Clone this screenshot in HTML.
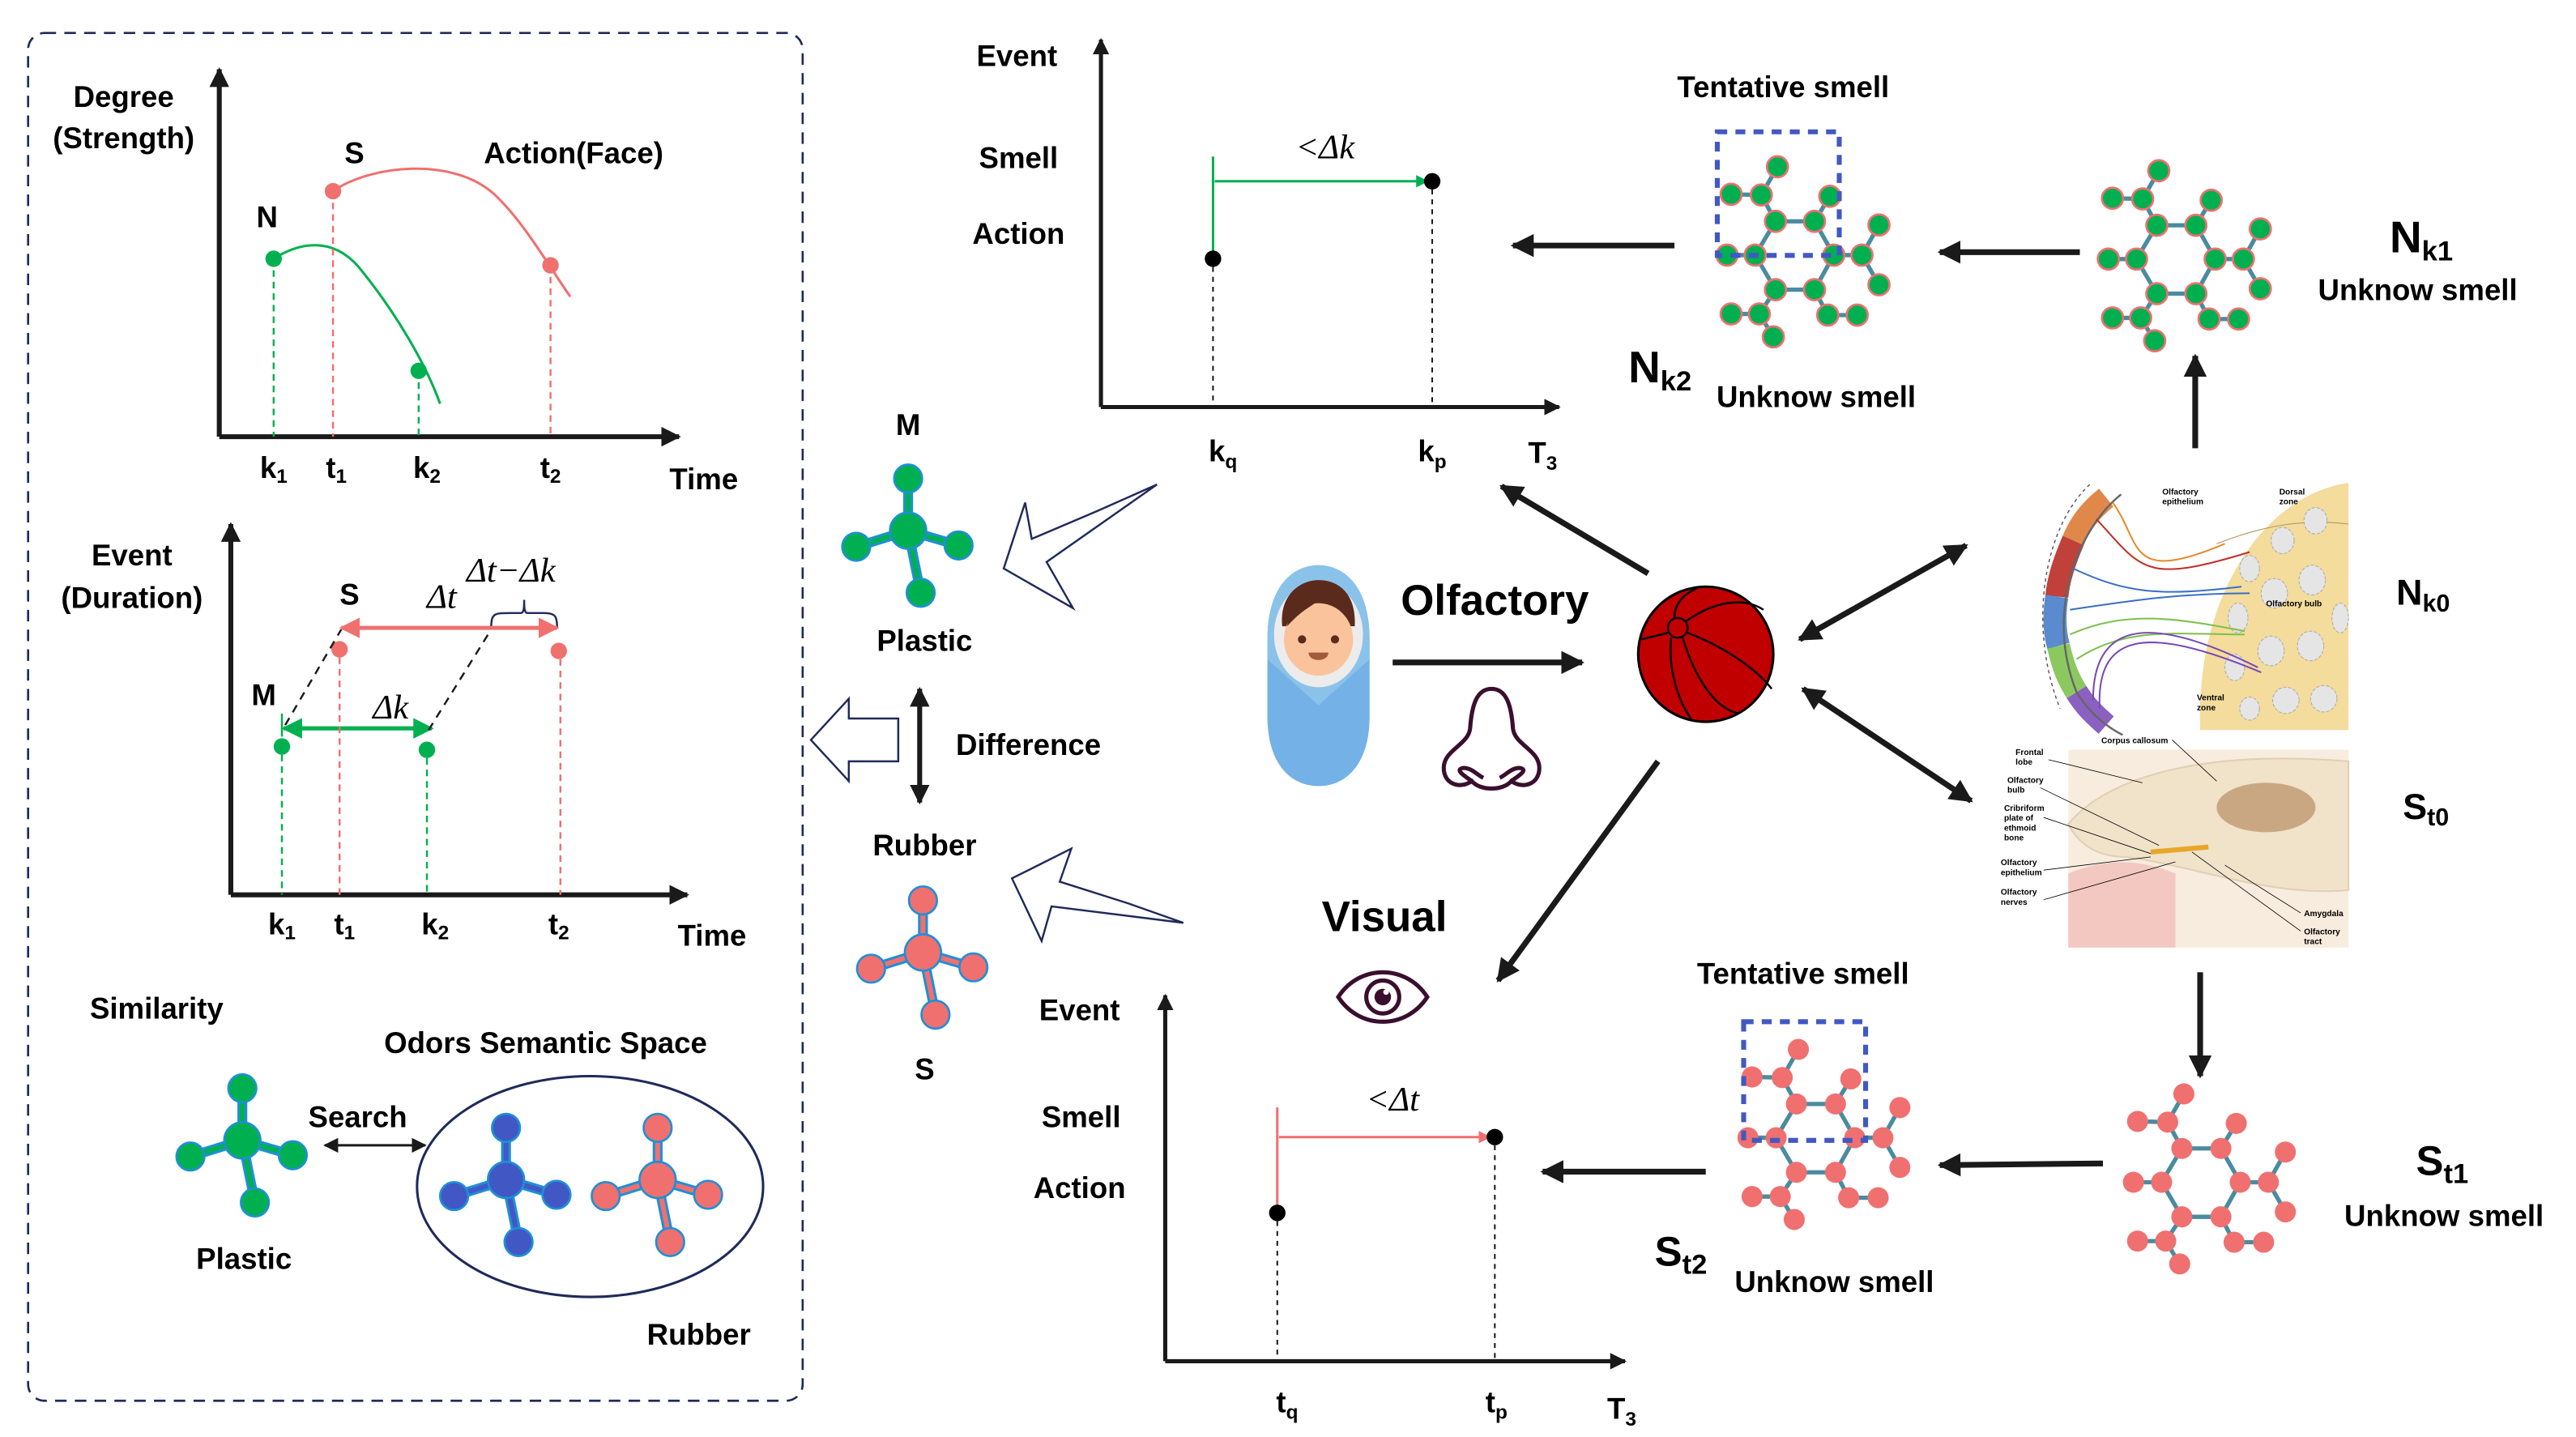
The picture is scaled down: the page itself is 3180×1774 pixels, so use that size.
<!DOCTYPE html>
<html><head><meta charset="utf-8"><style>
html,body{margin:0;padding:0;background:#fff;width:3180px;height:1774px;overflow:hidden}
svg{display:block}
text{font-family:"Liberation Sans",sans-serif;font-weight:bold;fill:#000}
.l{font-size:18px}
.m{font-size:17px}
.it{font-family:"Liberation Serif",serif;font-style:italic;font-weight:normal;font-size:21px}
</style></head><body>
<svg width="3180" height="1774" viewBox="0 0 1563 872" xmlns="http://www.w3.org/2000/svg">
<defs>
<marker id="ah" viewBox="0 0 10 10" refX="9" refY="5" markerWidth="4" markerHeight="4" orient="auto-start-reverse"><path d="M0,0L10,5L0,10z" fill="#1a1a1a"/></marker>
<marker id="ahs" viewBox="0 0 10 10" refX="9" refY="5" markerWidth="6" markerHeight="6" orient="auto-start-reverse"><path d="M0,0L10,5L0,10z" fill="#1a1a1a"/></marker>
<marker id="ahr" viewBox="0 0 10 10" refX="9" refY="5" markerWidth="5" markerHeight="5" orient="auto-start-reverse"><path d="M0,0L10,5L0,10z" fill="#f07070"/></marker>
<marker id="ahg" viewBox="0 0 10 10" refX="9" refY="5" markerWidth="5" markerHeight="5" orient="auto-start-reverse"><path d="M0,0L10,5L0,10z" fill="#00b050"/></marker>
<g id="bonds" stroke="#4a8ba0" stroke-width="2.6" fill="none">
<path d="M-11.7,-20.5L12,-20.5L23.7,0L12,21L-11.7,21L-24,0Z"/>
<path d="M-11.7,-20.5L-20.3,-36.5L-38.6,-36.9M-20.3,-36.5L-10.5,-53.6M12,-20.5L21.3,-35.7M23.7,0L40.8,0L51.1,-18.3M40.8,0L51.1,18M-24,0L-41.1,0M-11.7,21L-21.5,35.7L-38.6,35.7M-21.5,35.7L-13,49.6M12,21L20,36.4L37.9,36.4"/>
</g>
<g id="nodes">
<circle cx="-11.7" cy="-20.5" r="6.4"/><circle cx="12" cy="-20.5" r="6.4"/><circle cx="23.7" cy="0" r="6.4"/><circle cx="12" cy="21" r="6.4"/><circle cx="-11.7" cy="21" r="6.4"/><circle cx="-24" cy="0" r="6.4"/>
<circle cx="-20.3" cy="-36.5" r="6.4"/><circle cx="-38.6" cy="-36.9" r="6.4"/><circle cx="-10.5" cy="-53.6" r="6.4"/><circle cx="21.3" cy="-35.7" r="6.4"/>
<circle cx="40.8" cy="0" r="6.4"/><circle cx="51.1" cy="-18.3" r="6.4"/><circle cx="51.1" cy="18" r="6.4"/><circle cx="-41.1" cy="0" r="6.4"/>
<circle cx="-21.5" cy="35.7" r="6.4"/><circle cx="-38.6" cy="35.7" r="6.4"/><circle cx="-13" cy="49.6" r="6.4"/><circle cx="20" cy="36.4" r="6.4"/><circle cx="37.9" cy="36.4" r="6.4"/>
</g>
<g id="tb" fill="none">
<path d="M0,0L0,-31.6M0,0L-31.5,9.8M0,0L30.6,9M0,0L7.6,37.7" stroke="#1f8fd8" stroke-width="6"/>
</g>
<g id="tn">
<circle cx="0" cy="0" r="11"/><circle cx="0" cy="-31.6" r="8.5"/><circle cx="-31.5" cy="9.8" r="8.5"/><circle cx="30.6" cy="9" r="8.5"/><circle cx="7.6" cy="37.7" r="8.5"/>
</g>
</defs>

<!-- Left dashed panel -->
<rect x="17" y="20" width="470" height="830" rx="10" fill="none" stroke="#1f2a5a" stroke-width="1.3" stroke-dasharray="7,5"/>

<!-- Chart 1 -->
<line x1="133" y1="265" x2="133" y2="42" stroke="#1a1a1a" stroke-width="3" marker-end="url(#ah)"/>
<line x1="133" y1="265" x2="412" y2="265" stroke="#1a1a1a" stroke-width="3" marker-end="url(#ah)"/>
<text x="75" y="65" class="l" text-anchor="middle">Degree</text>
<text x="75" y="90" class="l" text-anchor="middle">(Strength)</text>
<text x="215" y="99" class="l" text-anchor="middle">S</text>
<text x="348" y="99" class="l" text-anchor="middle">Action(Face)</text>
<text x="162" y="138" class="l" text-anchor="middle">N</text>
<path d="M202,116 C225,100 275,95 300,118 C318,135 332,160 346,180" fill="none" stroke="#f07070" stroke-width="1.5"/>
<path d="M166,157 C185,145 205,145 220,165 C240,190 258,220 267,245" fill="none" stroke="#00b050" stroke-width="1.5"/>
<g stroke-dasharray="4,3" stroke-width="1.2">
<line x1="166" y1="157" x2="166" y2="265" stroke="#00b050"/><line x1="254" y1="225" x2="254" y2="265" stroke="#00b050"/>
<line x1="202" y1="116" x2="202" y2="265" stroke="#f07070"/><line x1="334" y1="161" x2="334" y2="265" stroke="#f07070"/>
</g>
<circle cx="166" cy="157" r="5" fill="#00b050"/><circle cx="254" cy="225" r="5" fill="#00b050"/>
<circle cx="202" cy="116" r="5" fill="#f07070"/><circle cx="334" cy="161" r="5" fill="#f07070"/>
<text x="166" y="290" class="l" text-anchor="middle">k<tspan font-size="12" dy="3">1</tspan></text>
<text x="204" y="290" class="l" text-anchor="middle">t<tspan font-size="12" dy="3">1</tspan></text>
<text x="259" y="290" class="l" text-anchor="middle">k<tspan font-size="12" dy="3">2</tspan></text>
<text x="334" y="290" class="l" text-anchor="middle">t<tspan font-size="12" dy="3">2</tspan></text>
<text x="427" y="297" class="l" text-anchor="middle">Time</text>

<!-- Chart 2 -->
<line x1="140" y1="543" x2="140" y2="318" stroke="#1a1a1a" stroke-width="3" marker-end="url(#ah)"/>
<line x1="140" y1="543" x2="417" y2="543" stroke="#1a1a1a" stroke-width="3" marker-end="url(#ah)"/>
<text x="80" y="343" class="l" text-anchor="middle">Event</text>
<text x="80" y="369" class="l" text-anchor="middle">(Duration)</text>
<text x="212" y="367" class="l" text-anchor="middle">S</text>
<text x="268" y="369" class="it" text-anchor="middle">Δt</text>
<text x="310" y="353" class="it" text-anchor="middle">Δt−Δk</text>
<path d="M298,381 C298,372 300,372 310,372 L316,372 C318,372 318,368 318,364 C318,368 318,372 320,372 L330,372 C337,372 338,374 338,381" fill="none" stroke="#1f2a5a" stroke-width="1.2"/>
<line x1="207" y1="381" x2="338" y2="381" stroke="#f07070" stroke-width="2.5" marker-start="url(#ahr)" marker-end="url(#ahr)"/>
<circle cx="206" cy="394" r="5" fill="#f07070"/><circle cx="339" cy="395" r="5" fill="#f07070"/>
<text x="160" y="428" class="l" text-anchor="middle">M</text>
<text x="237" y="436" class="it" text-anchor="middle">Δk</text>
<line x1="171" y1="433" x2="171" y2="447" stroke="#00b050" stroke-width="1.2"/>
<line x1="172" y1="442" x2="262" y2="442" stroke="#00b050" stroke-width="2.5" marker-start="url(#ahg)" marker-end="url(#ahg)"/>
<circle cx="171" cy="453" r="5" fill="#00b050"/><circle cx="259" cy="455" r="5" fill="#00b050"/>
<g stroke-dasharray="5,4" stroke="#1a1a1a" stroke-width="1.2"><line x1="173" y1="440" x2="207" y2="382"/><line x1="260" y1="443" x2="298" y2="382"/></g>
<g stroke-dasharray="4,3" stroke-width="1.2">
<line x1="171" y1="458" x2="171" y2="543" stroke="#00b050"/><line x1="259" y1="460" x2="259" y2="543" stroke="#00b050"/>
<line x1="206" y1="399" x2="206" y2="543" stroke="#f07070"/><line x1="340" y1="400" x2="340" y2="543" stroke="#f07070"/>
</g>
<text x="171" y="567" class="l" text-anchor="middle">k<tspan font-size="12" dy="3">1</tspan></text>
<text x="209" y="567" class="l" text-anchor="middle">t<tspan font-size="12" dy="3">1</tspan></text>
<text x="264" y="567" class="l" text-anchor="middle">k<tspan font-size="12" dy="3">2</tspan></text>
<text x="339" y="567" class="l" text-anchor="middle">t<tspan font-size="12" dy="3">2</tspan></text>
<text x="432" y="574" class="l" text-anchor="middle">Time</text>

<!-- Similarity -->
<text x="95" y="618" class="l" text-anchor="middle">Similarity</text>
<text x="331" y="639" class="l" text-anchor="middle">Odors Semantic Space</text>
<g transform="translate(147,692)"><use href="#tb"/><path d="M0,0L0,-31.6M0,0L-31.5,9.8M0,0L30.6,9M0,0L7.6,37.7" stroke="#00b050" stroke-width="3"/><use href="#tn" fill="#00b050" stroke="#1f8fd8" stroke-width="1.3"/></g>
<text x="217" y="684" class="l" text-anchor="middle">Search</text>
<line x1="197" y1="695" x2="258" y2="695" stroke="#1a1a1a" stroke-width="1.5" marker-start="url(#ahs)" marker-end="url(#ahs)"/>
<ellipse cx="358" cy="720" rx="105" ry="67" fill="none" stroke="#1f2a5a" stroke-width="1.5"/>
<g transform="translate(307,716)"><use href="#tb"/><path d="M0,0L0,-31.6M0,0L-31.5,9.8M0,0L30.6,9M0,0L7.6,37.7" stroke="#4158c4" stroke-width="3"/><use href="#tn" fill="#4158c4" stroke="#1f8fd8" stroke-width="1.3"/></g>
<g transform="translate(399,716)"><use href="#tb"/><path d="M0,0L0,-31.6M0,0L-31.5,9.8M0,0L30.6,9M0,0L7.6,37.7" stroke="#f07070" stroke-width="3"/><use href="#tn" fill="#f07070" stroke="#1f8fd8" stroke-width="1.3"/></g>
<text x="148" y="770" class="l" text-anchor="middle">Plastic</text>
<text x="424" y="816" class="l" text-anchor="middle">Rubber</text>

<!-- Middle column -->
<text x="551" y="264" class="l" text-anchor="middle">M</text>
<g transform="translate(551,322)"><use href="#tb"/><path d="M0,0L0,-31.6M0,0L-31.5,9.8M0,0L30.6,9M0,0L7.6,37.7" stroke="#00b050" stroke-width="3"/><use href="#tn" fill="#00b050" stroke="#1f8fd8" stroke-width="1.3"/></g>
<text x="561" y="395" class="l" text-anchor="middle">Plastic</text>
<line x1="558" y1="452" x2="558" y2="418" stroke="#1a1a1a" stroke-width="3" marker-end="url(#ah)"/>
<line x1="558" y1="452" x2="558" y2="487" stroke="#1a1a1a" stroke-width="3" marker-end="url(#ah)"/>
<text x="624" y="458" class="l" text-anchor="middle">Difference</text>
<path d="M492,449 L515,424 L515,436 L545,436 L545,462 L515,462 L515,474 Z" fill="#fff" stroke="#1f2a5a" stroke-width="1.2"/>
<text x="561" y="519" class="l" text-anchor="middle">Rubber</text>
<g transform="translate(560,578)"><use href="#tb"/><path d="M0,0L0,-31.6M0,0L-31.5,9.8M0,0L30.6,9M0,0L7.6,37.7" stroke="#f07070" stroke-width="3"/><use href="#tn" fill="#f07070" stroke="#1f8fd8" stroke-width="1.3"/></g>
<text x="561" y="655" class="l" text-anchor="middle">S</text>
<path d="M702,294 L666,310 L626,327 L622,305 L609,345 L651,369 L635,341 Z" fill="#fff" stroke="#1f2a5a" stroke-width="1.2"/>
<path d="M718,560 L684,548 L643,535 L650,515 L614,533 L632,571 L638,550 Z" fill="#fff" stroke="#1f2a5a" stroke-width="1.2"/>

<!-- Top chart -->
<line x1="668" y1="247" x2="668" y2="24" stroke="#1a1a1a" stroke-width="2.5" marker-end="url(#ah)"/>
<line x1="668" y1="247" x2="946" y2="247" stroke="#1a1a1a" stroke-width="2.5" marker-end="url(#ah)"/>
<text x="617" y="40" class="l" text-anchor="middle">Event</text>
<text x="618" y="102" class="l" text-anchor="middle">Smell</text>
<text x="618" y="148" class="l" text-anchor="middle">Action</text>
<line x1="736" y1="95" x2="736" y2="157" stroke="#00b050" stroke-width="1.5"/>
<line x1="737" y1="110" x2="866" y2="110" stroke="#00b050" stroke-width="1.5" marker-end="url(#ahg)"/>
<text x="804" y="96" class="it" text-anchor="middle">&lt;Δk</text>
<circle cx="736" cy="157" r="5" fill="#000"/><circle cx="869" cy="110" r="5" fill="#000"/>
<g stroke="#1a1a1a" stroke-dasharray="3,3" stroke-width="1"><line x1="736" y1="162" x2="736" y2="247"/><line x1="869" y1="115" x2="869" y2="247"/></g>
<text x="742" y="280" class="l" text-anchor="middle">k<tspan font-size="12" dy="4">q</tspan></text>
<text x="869" y="280" class="l" text-anchor="middle">k<tspan font-size="12" dy="4">p</tspan></text>
<text x="936" y="281" class="l" text-anchor="middle">T<tspan font-size="12" dy="4">3</tspan></text>

<!-- Bottom chart -->
<line x1="707" y1="826" x2="707" y2="604" stroke="#1a1a1a" stroke-width="2.5" marker-end="url(#ah)"/>
<line x1="707" y1="826" x2="986" y2="826" stroke="#1a1a1a" stroke-width="2.5" marker-end="url(#ah)"/>
<text x="655" y="619" class="l" text-anchor="middle">Event</text>
<text x="656" y="684" class="l" text-anchor="middle">Smell</text>
<text x="655" y="727" class="l" text-anchor="middle">Action</text>
<line x1="775" y1="672" x2="775" y2="735" stroke="#f07070" stroke-width="1.5"/>
<line x1="776" y1="690" x2="904" y2="690" stroke="#f07070" stroke-width="1.5" marker-end="url(#ahr)"/>
<text x="845" y="674" class="it" text-anchor="middle">&lt;Δt</text>
<circle cx="775" cy="736" r="5" fill="#000"/><circle cx="907" cy="690" r="5" fill="#000"/>
<g stroke="#1a1a1a" stroke-dasharray="3,3" stroke-width="1"><line x1="775" y1="741" x2="775" y2="826"/><line x1="907" y1="695" x2="907" y2="826"/></g>
<text x="781" y="857" class="l" text-anchor="middle">t<tspan font-size="12" dy="4">q</tspan></text>
<text x="908" y="857" class="l" text-anchor="middle">t<tspan font-size="12" dy="4">p</tspan></text>
<text x="984" y="861" class="l" text-anchor="middle">T<tspan font-size="12" dy="4">3</tspan></text>

<!-- Baby -->
<g>
<path d="M769,388 C769,355 785,343 800,343 C815,343 831,355 831,388 L831,435 C831,462 818,477 800,477 C782,477 769,462 769,435 Z" fill="#74b1e6"/>
<path d="M769,388 C769,355 785,343 800,343 C815,343 831,355 831,388 L831,400 L800,428 L769,400 Z" fill="#8bc2ea"/>
<ellipse cx="800" cy="385" rx="27" ry="32" fill="#ececec"/>
<path d="M778,380 C776,360 790,352 800,352 C812,352 823,360 822,380 Z" fill="#5a2a1c"/>
<ellipse cx="800" cy="388" rx="21" ry="22" fill="#fbc39c"/>
<path d="M781,380 C783,364 792,358 800,358 C810,358 818,364 820,376 C815,368 806,366 799,365 C796,368 790,370 781,380 Z" fill="#5a2a1c"/>
<circle cx="790" cy="388" r="2.5" fill="#5a2a1c"/><circle cx="810" cy="388" r="2.5" fill="#5a2a1c"/>
<path d="M794,396 L806,396 C806,402 794,402 794,396 Z" fill="#a05a3c"/>
</g>
<text x="907" y="373" font-size="26" text-anchor="middle">Olfactory</text>
<line x1="845" y1="402" x2="960" y2="402" stroke="#1a1a1a" stroke-width="3.5" marker-end="url(#ah)"/>
<!-- Nose -->
<path d="M905,418 C896,418 893,428 892,442 C891,452 876,455 876,466 C876,476 886,479 893,474 C898,480 912,480 917,474 C924,479 934,476 934,466 C934,455 919,452 918,442 C917,428 914,418 905,418 Z M893,474 C889,471 882,467 888,466 C893,466 896,470 900,472 M917,474 C921,471 928,467 922,466 C917,466 914,470 910,472" fill="none" stroke="#3a0f2e" stroke-width="2.5"/>
<!-- Ball -->
<circle cx="1035" cy="397" r="41" fill="#c00000" stroke="#000" stroke-width="1.5"/>
<g fill="none" stroke="#000" stroke-width="1.2">
<circle cx="1018" cy="381" r="6"/>
<path d="M1024,384 C1045,392 1065,405 1075,418"/>
<path d="M1021,387 C1028,410 1040,430 1055,433"/>
<path d="M1014,387 C1012,405 1018,425 1026,436"/>
<path d="M1023,377 C1040,365 1058,362 1070,370"/>
<path d="M1016,375 C1016,366 1022,360 1030,357"/>
<path d="M1012,384 L996,388"/>
</g>
<text x="840" y="565" font-size="26" text-anchor="middle">Visual</text>
<!-- Eye -->
<g fill="none" stroke="#3a0f2e" stroke-width="2.5">
<path d="M812,605 C825,585 853,585 866,605 C853,625 825,625 812,605 Z"/>
<circle cx="839" cy="605" r="10"/>
</g>
<circle cx="839" cy="605" r="5" fill="#3a0f2e"/><circle cx="841" cy="602" r="1.7" fill="#fff"/>

<!-- Arrows -->
<line x1="1000" y1="348" x2="911" y2="295" stroke="#1a1a1a" stroke-width="3.5" marker-end="url(#ah)"/>
<line x1="1006" y1="462" x2="909" y2="595" stroke="#1a1a1a" stroke-width="3.5" marker-end="url(#ah)"/>
<line x1="1092" y1="388" x2="1193" y2="331" stroke="#1a1a1a" stroke-width="3.5" marker-start="url(#ah)" marker-end="url(#ah)"/>
<line x1="1094" y1="418" x2="1196" y2="486" stroke="#1a1a1a" stroke-width="3.5" marker-start="url(#ah)" marker-end="url(#ah)"/>
<line x1="1332" y1="272" x2="1332" y2="216" stroke="#1a1a1a" stroke-width="3.5" marker-end="url(#ah)"/>
<line x1="1016" y1="149" x2="918" y2="149" stroke="#1a1a1a" stroke-width="3.5" marker-end="url(#ah)"/>
<line x1="1262" y1="153" x2="1177" y2="153" stroke="#1a1a1a" stroke-width="3.5" marker-end="url(#ah)"/>
<line x1="1335" y1="590" x2="1335" y2="653" stroke="#1a1a1a" stroke-width="3.5" marker-end="url(#ah)"/>
<line x1="1276" y1="706" x2="1177" y2="707" stroke="#1a1a1a" stroke-width="3.5" marker-end="url(#ah)"/>
<line x1="1035" y1="711" x2="936" y2="711" stroke="#1a1a1a" stroke-width="3.5" marker-end="url(#ah)"/>

<!-- Molecules -->
<g transform="translate(1320.4,157.2)"><use href="#bonds"/><use href="#nodes" fill="#00b050" stroke="#f07070" stroke-width="1.3"/></g>
<g transform="translate(1089,154.8)"><use href="#bonds"/><use href="#nodes" fill="#00b050" stroke="#f07070" stroke-width="1.3"/></g>
<rect x="1042" y="80" width="74" height="75" fill="none" stroke="#4158c4" stroke-width="3" stroke-dasharray="6,5"/>
<g transform="translate(1335.6,717.4)"><use href="#bonds"/><use href="#nodes" fill="#f07070"/></g>
<g transform="translate(1101.7,690.4)"><use href="#bonds"/><use href="#nodes" fill="#f07070"/></g>
<rect x="1058" y="620" width="74" height="72" fill="none" stroke="#4158c4" stroke-width="3" stroke-dasharray="6,5"/>

<!-- Labels right -->
<text x="1082" y="59" class="l" text-anchor="middle">Tentative smell</text>
<text x="1450" y="153" font-size="27">N<tspan font-size="17" dy="5">k1</tspan></text>
<text x="1467" y="182" class="l" text-anchor="middle">Unknow smell</text>
<text x="988" y="232" font-size="27">N<tspan font-size="17" dy="5">k2</tspan></text>
<text x="1102" y="247" class="l" text-anchor="middle">Unknow smell</text>
<text x="1454" y="367" font-size="22">N<tspan font-size="15" dy="4">k0</tspan></text>
<text x="1458" y="497" font-size="22">S<tspan font-size="15" dy="4">t0</tspan></text>
<text x="1094" y="597" class="l" text-anchor="middle">Tentative smell</text>
<text x="1466" y="713" font-size="25">S<tspan font-size="17" dy="5">t1</tspan></text>
<text x="1483" y="744" class="l" text-anchor="middle">Unknow smell</text>
<text x="1004" y="768" font-size="25">S<tspan font-size="17" dy="5">t2</tspan></text>
<text x="1113" y="784" class="l" text-anchor="middle">Unknow smell</text>

<!-- Brain illustration top -->
<g>
<path d="M1335,443 C1332,360 1375,300 1425,293 L1425,443 Z" fill="#f3dc9c"/>
<path d="M1345,330 C1375,318 1400,315 1425,318" fill="none" stroke="#b8a070" stroke-width="0.6"/>
<g fill="#e5e5e5" stroke="#aaa" stroke-width="0.5" stroke-dasharray="2,1">
<ellipse cx="1365" cy="345" rx="6" ry="8"/><ellipse cx="1385" cy="328" rx="7" ry="8"/><ellipse cx="1405" cy="316" rx="7" ry="8"/>
<ellipse cx="1358" cy="375" rx="6" ry="9"/><ellipse cx="1380" cy="360" rx="8" ry="9"/><ellipse cx="1403" cy="352" rx="8" ry="9"/>
<ellipse cx="1356" cy="405" rx="6" ry="8"/><ellipse cx="1378" cy="395" rx="8" ry="9"/><ellipse cx="1402" cy="392" rx="8" ry="9"/>
<ellipse cx="1365" cy="430" rx="6" ry="7"/><ellipse cx="1387" cy="425" rx="8" ry="8"/><ellipse cx="1410" cy="424" rx="8" ry="8"/>
<ellipse cx="1420" cy="375" rx="5" ry="9"/>
</g>
<g fill="none" stroke-width="14">
<path d="M1278,302 C1268,310 1262,318 1258,328" stroke="#e0884a"/>
<path d="M1258,328 C1252,342 1249,352 1248,362" stroke="#c0403a"/>
<path d="M1248,362 C1246,375 1247,385 1249,392" stroke="#5a8ad0"/>
<path d="M1249,392 C1252,405 1255,412 1260,420" stroke="#8cc860"/>
<path d="M1260,420 C1265,428 1270,433 1278,440" stroke="#8a60c0"/>
</g>
<path d="M1287,300 C1262,320 1240,370 1260,420 C1266,430 1276,440 1288,446" fill="none" stroke="#666" stroke-width="1.2"/>
<path d="M1268,294 C1240,320 1230,380 1250,430" fill="none" stroke="#555" stroke-width="0.7" stroke-dasharray="2,2"/>
<g fill="none" stroke-width="1">
<path d="M1282,305 C1300,330 1290,355 1350,330" stroke="#e58b2a"/><path d="M1272,315 C1300,345 1300,355 1365,335" stroke="#c0302a"/>
<path d="M1258,345 C1290,360 1310,362 1360,356" stroke="#3a6fc4"/><path d="M1256,370 C1290,365 1320,360 1365,360" stroke="#3a6fc4"/>
<path d="M1256,385 C1290,370 1320,375 1362,383" stroke="#7dc04a"/><path d="M1260,400 C1290,380 1320,385 1362,385" stroke="#7dc04a"/>
<path d="M1270,425 C1270,380 1300,370 1370,405" stroke="#7a4ab0"/><path d="M1274,430 C1272,385 1300,378 1372,408" stroke="#7a4ab0"/>
</g>
<text x="1312" y="300" font-size="5" font-weight="normal">Olfactory</text>
<text x="1312" y="306" font-size="5" font-weight="normal">epithelium</text>
<text x="1383" y="300" font-size="5" font-weight="normal">Dorsal</text>
<text x="1383" y="306" font-size="5" font-weight="normal">zone</text>
<text x="1375" y="368" font-size="5" font-weight="normal">Olfactory bulb</text>
<text x="1333" y="425" font-size="5" font-weight="normal">Ventral</text>
<text x="1333" y="431" font-size="5" font-weight="normal">zone</text>
</g>
<!-- Brain illustration bottom -->
<g>
<rect x="1255" y="455" width="170" height="120" fill="#f7ecdd"/>
<path d="M1255,500 C1280,470 1340,455 1425,462 L1425,540 C1380,545 1330,525 1290,520 C1270,520 1260,510 1255,500Z" fill="#f1e2ca" stroke="#e0cfb4" stroke-width="1"/>
<ellipse cx="1375" cy="490" rx="30" ry="15" fill="#c9a783"/>
<path d="M1255,530 C1280,520 1300,522 1320,530 L1320,575 L1255,575Z" fill="#f3c8c0"/>
<path d="M1305,517 L1340,514" stroke="#e8a62a" stroke-width="3"/>
<g font-size="5" font-weight="normal">
<text x="1223" y="458">Frontal</text><text x="1223" y="464">lobe</text>
<text x="1218" y="475">Olfactory</text><text x="1218" y="481">bulb</text>
<text x="1216" y="492">Cribriform</text><text x="1216" y="498">plate of</text><text x="1216" y="504">ethmoid</text><text x="1216" y="510">bone</text>
<text x="1214" y="525">Olfactory</text><text x="1214" y="531">epithelium</text>
<text x="1214" y="543" fill="#e00000" font-weight="bold">Olfactory</text><text x="1214" y="549" fill="#e00000" font-weight="bold">nerves</text>
<text x="1275" y="451">Corpus callosum</text>
<text x="1398" y="556">Amygdala</text>
<text x="1398" y="567">Olfactory</text><text x="1398" y="573">tract</text>
</g>
<g stroke="#000" stroke-width="0.4" fill="none">
<path d="M1243,461 L1300,475"/><path d="M1238,478 L1310,513"/><path d="M1240,496 L1305,518"/><path d="M1240,528 L1305,520"/><path d="M1240,546 L1320,523"/>
<path d="M1318,449 L1345,474"/><path d="M1396,554 L1350,525"/><path d="M1396,565 L1330,517"/>
</g>
</g>
</svg>
</body></html>
